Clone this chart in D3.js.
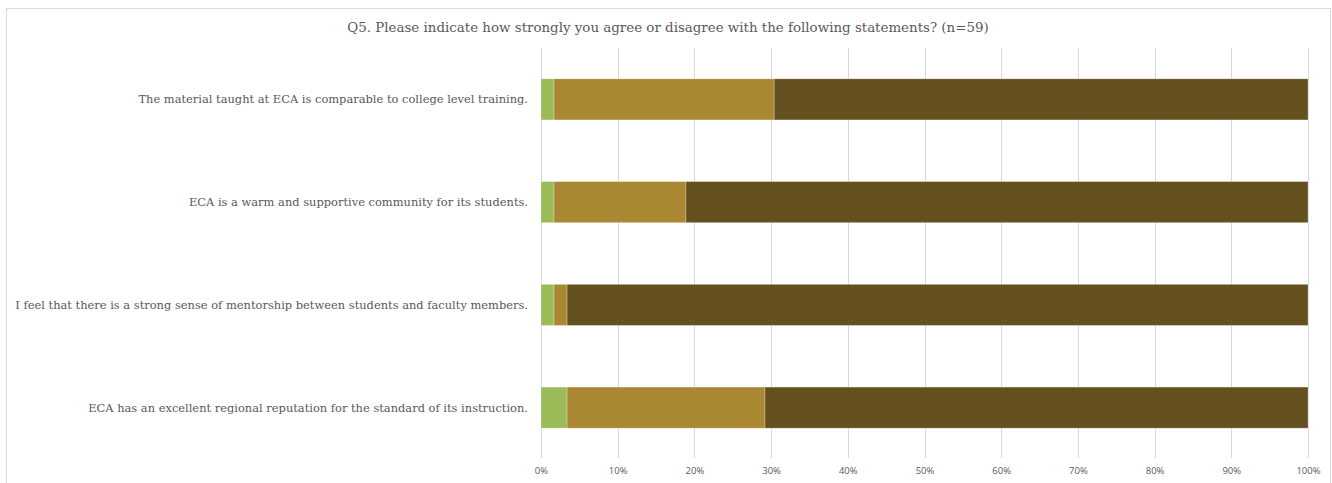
<!DOCTYPE html>
<html>
<head>
<meta charset="utf-8">
<script src="https://cdn.jsdelivr.net/npm/d3@7"></script>
<style>
  body { margin: 0; background: #fff; }
  svg { display: block; }
</style>
</head>
<body>
<div id="chart"></div>
<script>
// statements, top to bottom
const statements = [
    "The material taught at ECA is comparable to college level training.",
    "ECA is a warm and supportive community for its students.",
    "I feel that there is a strong sense of mentorship between students and faculty members.",
    "ECA has an excellent regional reputation for the standard of its instruction."
];
// response share (%) per statement
const agree = [1.7, 1.7, 1.7, 3.4];
const agreeStrongly = [28.7, 17.2, 1.7, 25.8];
const agreeVeryStrongly = [69.6, 81.1, 96.6, 70.8];
const seriesKeys = ["agree", "agreeStrongly", "agreeVeryStrongly"];
const seriesColors = ["#9bbb59", "#aa8733", "#65511f"];
const tickValues = [0, 0.1, 0.2, 0.3, 0.4, 0.5, 0.6, 0.7, 0.8, 0.9, 1];

const title = "Q5. Please indicate how strongly you agree or disagree with the following statements? (n=59)";

const W = 1332, H = 483;
const margin = { top: 48, right: 24, bottom: 24, left: 541 };
const plotRight = 1308, plotBottom = 459;
const serif = "'DejaVu Serif', Georgia, serif";

const svg = d3.select("#chart").append("svg")
    .attr("width", W)
    .attr("height", H);

// chart frame
svg.append("rect")
    .attr("x", 6.5).attr("y", 8.5)
    .attr("width", 1324).attr("height", 490)
    .attr("fill", "#fff")
    .attr("stroke", "#d9d9d9");

svg.append("text")
    .attr("x", 668).attr("y", 32)
    .attr("text-anchor", "middle")
    .attr("font-family", serif)
    .attr("font-size", 13.4)
    .attr("fill", "#595959")
    .text(title);

const rows = statements.map((s, i) => ({
    label: s,
    agree: agree[i],
    agreeStrongly: agreeStrongly[i],
    agreeVeryStrongly: agreeVeryStrongly[i]
}));

const x = d3.scaleLinear().domain([0, 1]).range([margin.left, plotRight]);
const y = d3.scaleBand().domain(statements).range([margin.top, plotBottom]).paddingInner(0.6).paddingOuter(0.3);

// gridlines
svg.append("g")
    .selectAll("line")
    .data(tickValues)
    .join("line")
    .attr("x1", d => Math.round(x(d)) + 0.5)
    .attr("x2", d => Math.round(x(d)) + 0.5)
    .attr("y1", margin.top)
    .attr("y2", plotBottom - 1)
    .attr("stroke", "#d9d9d9");

const stack = d3.stack().keys(seriesKeys).offset(d3.stackOffsetExpand);
const layers = stack(rows);

svg.append("g")
    .selectAll("g")
    .data(layers)
    .join("g")
    .attr("fill", (d, i) => seriesColors[i])
    .selectAll("rect")
    .data(d => d)
    .join("rect")
    .attr("x", d => x(d[0]))
    .attr("y", d => y(d.data.label))
    .attr("width", d => x(d[1]) - x(d[0]))
    .attr("height", y.bandwidth())
    .attr("stroke", "#fff")
    .attr("stroke-opacity", 0.35)
    .attr("stroke-width", 0.75);

// category labels
svg.append("g")
    .selectAll("text")
    .data(statements)
    .join("text")
    .attr("x", 528)
    .attr("y", d => y(d) + y.bandwidth() / 2)
    .attr("dy", "0.35em")
    .attr("text-anchor", "end")
    .attr("font-family", serif)
    .attr("font-size", 11.45)
    .attr("fill", "#595959")
    .text(d => d);

// x axis tick labels
const xAxis = d3.axisBottom(x)
    .tickValues(tickValues)
    .tickFormat(d3.format(".0%"))
    .tickSize(0)
    .tickPadding(8);

const gx = svg.append("g")
    .attr("transform", `translate(0,${plotBottom})`)
    .call(xAxis);
gx.select(".domain").remove();
gx.selectAll("text")
    .attr("font-family", "'Open Sans', 'Liberation Sans', sans-serif")
    .attr("font-size", 9.5)
    .attr("fill", "#595959");
</script>
</body>
</html>
